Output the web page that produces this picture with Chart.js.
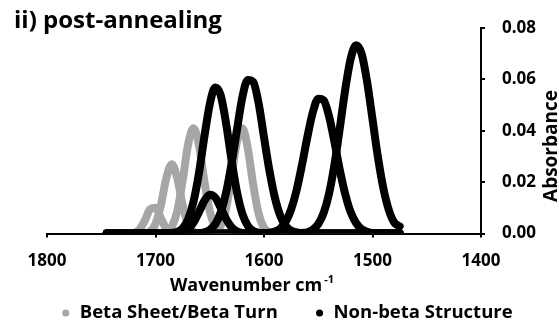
<!DOCTYPE html>
<html>
<head>
<meta charset="utf-8">
<script src="https://cdn.jsdelivr.net/npm/chart.js@4.4.1/dist/chart.umd.min.js"></script>
<style>
html,body{margin:0;padding:0;background:#ffffff;}
#wrap{width:559px;height:326px;position:relative;}
</style>
</head>
<body>
<div id="wrap"><canvas id="chart" width="559" height="326"></canvas></div>
<script>
// ---------- data ----------
const chartTitle = 'ii) post-annealing';
const xTitle = 'Wavenumber cm';
const xTitleSup = '-1';
const yTitle = 'Absorbance';
const legendLabels = ['Beta Sheet/Beta Turn', 'Non-beta Structure'];

const xTicks = [1800, 1700, 1600, 1500, 1400];
const yTicks = [0, 0.02, 0.04, 0.06, 0.08];

const wavenumbers = [
  1745,1740,1735,1730,1725,1720,1715,1710,1705,1700,1695,
  1690,1685,1680,1675,1670,1665,1660,1655,1650,1645,1640,
  1635,1630,1625,1620,1615,1610,1605,1600,1595,1590,1585,
  1580,1575,1570,1565,1560,1555,1550,1545,1540,1535,1530,
  1525,1520,1515,1510,1505,1500,1495,1490,1485,1480,1475
];

// Beta sheet / beta turn components (grey)
const beta1702 = [
  0,0,0,0,0,0.0002,0.0014,0.0049,0.0094,0.0100,0.0059,
  0.0019,0.0003,0,0,0,0,0,0,0,0,0,
  0,0,0,0,0,0,0,0,0,0,0,
  0,0,0,0,0,0,0,0,0,0,0,
  0,0,0,0,0,0,0,0,0,0,0
];
const beta1685 = [
  0,0,0,0,0,0,0,0.0001,0.0008,0.0037,0.0111,
  0.0216,0.0270,0.0216,0.0111,0.0037,0.0008,0.0001,0,0,0,0,
  0,0,0,0,0,0,0,0,0,0,0,
  0,0,0,0,0,0,0,0,0,0,0,
  0,0,0,0,0,0,0,0,0,0,0
];
const beta1665 = [
  0,0,0,0,0,0,0,0,0,0,0.0001,
  0.0005,0.0026,0.0086,0.0205,0.0345,0.0410,0.0345,0.0205,0.0086,0.0026,0.0005,
  0.0001,0,0,0,0,0,0,0,0,0,0,
  0,0,0,0,0,0,0,0,0,0,0,
  0,0,0,0,0,0,0,0,0,0,0
];
const beta1620 = [
  0,0,0,0,0,0,0,0,0,0,0,
  0,0,0,0,0,0,0,0,0.0001,0.0006,0.0030,
  0.0096,0.0220,0.0356,0.0410,0.0333,0.0191,0.0078,0.0022,0.0005,0.0001,0,
  0,0,0,0,0,0,0,0,0,0,0,
  0,0,0,0,0,0,0,0,0,0,0
];

// Non-beta components (black)
const nonBeta1644 = [
  0,0,0,0,0,0,0,0,0,0,0,
  0,0.0002,0.0006,0.0020,0.0054,0.0123,0.0234,0.0375,0.0503,0.0568,0.0539,
  0.0430,0.0289,0.0163,0.0077,0.0031,0.0010,0.0003,0,0,0,0,
  0,0,0,0,0,0,0,0,0,0,0,
  0,0,0,0,0,0,0,0,0,0,0
];
const nonBeta1649 = [
  0,0,0,0,0,0,0,0,0,0,0,
  0,0,0.0001,0.0005,0.0017,0.0042,0.0083,0.0127,0.0151,0.0140,0.0101,
  0.0057,0.0025,0.0009,0.0002,0,0,0,0,0,0,0,
  0,0,0,0,0,0,0,0,0,0,0,
  0,0,0,0,0,0,0,0,0,0,0
];
const nonBeta1613 = [
  0,0,0,0,0,0,0,0,0,0,0,
  0,0,0,0,0,0,0.0001,0.0005,0.0014,0.0036,0.0081,
  0.0158,0.0270,0.0402,0.0529,0.0598,0.0590,0.0508,0.0375,0.0245,0.0140,0.0069,
  0.0030,0.0011,0.0004,0.0001,0,0,0,0,0,0,0,
  0,0,0,0,0,0,0,0,0,0,0
];
const nonBeta1548 = [
  0,0,0,0,0,0,0,0,0,0,0,
  0,0,0,0,0,0,0,0,0,0,0,
  0,0,0,0,0,0,0,0.0001,0.0003,0.0008,0.0020,
  0.0046,0.0094,0.0168,0.0267,0.0376,0.0472,0.0525,0.0519,0.0455,0.0355,0.0245,
  0.0151,0.0082,0.0040,0.0017,0.0007,0.0002,0.0001,0,0,0,0
];
const nonBeta1514 = [
  0,0,0,0,0,0,0,0,0,0,0,
  0,0,0,0,0,0,0,0,0,0,0,
  0,0,0,0,0,0,0,0,0,0,0,
  0,0,0,0.0002,0.0005,0.0015,0.0037,0.0080,0.0156,0.0270,0.0414,
  0.0564,0.0682,0.0733,0.0699,0.0591,0.0445,0.0297,0.0176,0.0092,0.0043,0.0028
];

const betaSeries = [beta1702, beta1685, beta1665, beta1620];
const nonBetaSeries = [nonBeta1644, nonBeta1649, nonBeta1613, nonBeta1548, nonBeta1514];

// ---------- styling ----------
const GREY = '#a6a6a6';
const BLACK = '#000000';
const FONT = '"Open Sans", "DejaVu Sans", sans-serif';

function makeDataset(values, label, color, order) {
  return {
    label: label,
    data: values.map((v, i) => ({x: wavenumbers[i], y: v})),
    borderColor: color,
    backgroundColor: color,
    borderWidth: 8,
    borderCapStyle: 'round',
    borderJoinStyle: 'round',
    pointRadius: 0,
    pointHoverRadius: 0,
    cubicInterpolationMode: 'monotone',
    fill: false,
    order: order
  };
}

const datasets = [];
nonBetaSeries.forEach(s => datasets.push(makeDataset(s, legendLabels[1], BLACK, 1)));
betaSeries.forEach(s => datasets.push(makeDataset(s, legendLabels[0], GREY, 2)));

const textPlugin = {
  id: 'extraTexts',
  afterDraw(chart) {
    const c = chart.ctx;
    c.save();
    c.fillStyle = '#000';
    // chart title
    c.font = 'bold 24px ' + FONT;
    c.textAlign = 'left';
    c.textBaseline = 'alphabetic';
    c.fillText(chartTitle, 14, 28);
    // x axis title with superscript
    c.font = 'bold 18px ' + FONT;
    const w1 = c.measureText(xTitle).width;
    c.font = 'bold 11px ' + FONT;
    const w2 = c.measureText(xTitleSup).width;
    const x0 = 252 - (w1 + 2 + w2) / 2;
    c.textBaseline = 'middle';
    c.font = 'bold 18px ' + FONT;
    c.fillText(xTitle, x0, 286);
    c.font = 'bold 11px ' + FONT;
    c.fillText(xTitleSup, x0 + w1 + 2, 280);
    // y axis title, reading upward
    c.translate(552, 146);
    c.rotate(-Math.PI / 2);
    c.font = 'bold 19px ' + FONT;
    c.textAlign = 'center';
    c.fillText(yTitle, 0, 0);
    c.restore();
  }
};

new Chart(document.getElementById('chart'), {
  type: 'line',
  data: {datasets: datasets},
  plugins: [textPlugin],
  options: {
    responsive: false,
    animation: false,
    events: [],
    layout: {padding: {top: 28, left: 24, right: 0, bottom: -6.25}},
    plugins: {
      title: {display: false},
      tooltip: {enabled: false},
      legend: {
        display: true,
        position: 'bottom',
        align: 'start',
        labels: {
          usePointStyle: true,
          boxWidth: 9.5,
          boxHeight: 5,
          padding: 37,
          color: '#000',
          font: {family: FONT, size: 18.5, weight: 'bold'},
          generateLabels: () => [
            {text: legendLabels[0], fillStyle: GREY, strokeStyle: GREY, lineWidth: 0, pointStyle: 'circle', hidden: false, fontColor: '#000'},
            {text: legendLabels[1], fillStyle: BLACK, strokeStyle: BLACK, lineWidth: 0, pointStyle: 'circle', hidden: false, fontColor: '#000'}
          ]
        }
      }
    },
    scales: {
      x: {
        type: 'linear',
        reverse: true,
        min: 1400,
        max: 1800,
        afterBuildTicks: s => { s.ticks = xTicks.map(v => ({value: v})); },
        afterFit: s => { s.height = 33.25; s.paddingLeft = 47; },
        border: {display: true, color: '#000', width: 2},
        grid: {display: true, drawOnChartArea: false, drawTicks: true, tickLength: 4, color: '#000', lineWidth: 2},
        ticks: {color: '#000', padding: 13, maxRotation: 0, font: {family: FONT, size: 17, weight: 'bold'}, callback: v => String(v)}
      },
      y: {
        type: 'linear',
        position: 'right',
        min: 0,
        max: 0.08,
        afterBuildTicks: s => { s.ticks = yTicks.map(v => ({value: v})); },
        afterFit: s => { s.width = 78; },
        border: {display: true, color: '#000', width: 2},
        grid: {display: true, drawOnChartArea: false, drawTicks: true, tickLength: 4, color: '#000', lineWidth: 2},
        ticks: {color: '#000', padding: 17, font: {family: FONT, size: 17, weight: 'bold'}, callback: v => Number(v).toFixed(2)}
      }
    }
  }
});
</script>
</body>
</html>
